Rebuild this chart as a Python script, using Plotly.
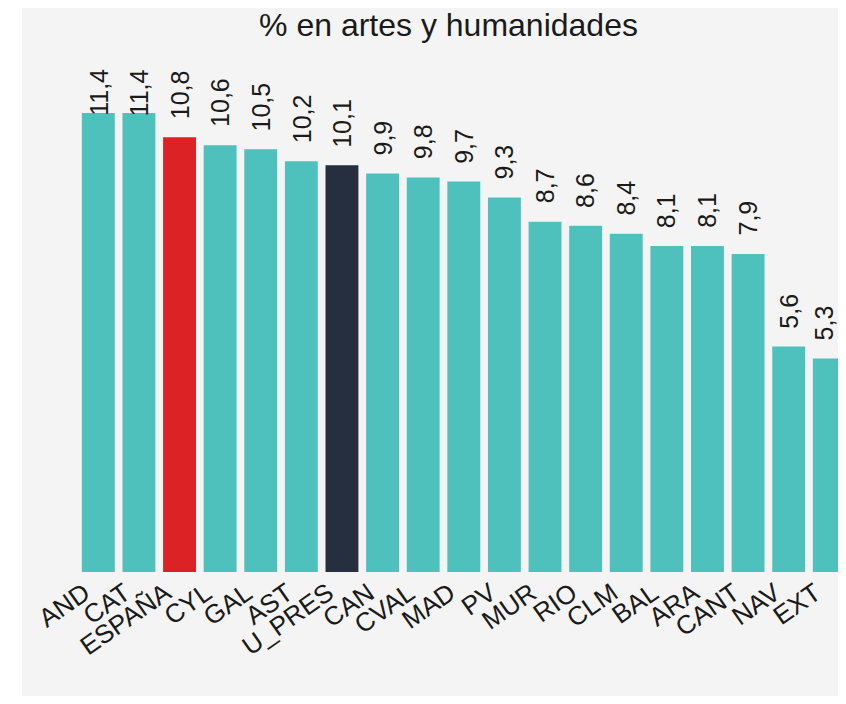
import plotly.graph_objects as go

categories = ["AND", "CAT", "ESPAÑA", "CYL", "GAL", "AST", "U_PRES", "CAN", "CVAL", "MAD",
              "PV", "MUR", "RIO", "CLM", "BAL", "ARA", "CANT", "NAV", "EXT"]
values = [11.4, 11.4, 10.8, 10.6, 10.5, 10.2, 10.1, 9.9, 9.8, 9.7,
          9.3, 8.7, 8.6, 8.4, 8.1, 8.1, 7.9, 5.6, 5.3]
labels = [f"{v:.1f}".replace(".", ",") for v in values]

TEAL = "#4ec1bd"
RED = "#dc2224"
NAVY = "#252f40"
colors = [RED if c == "ESPAÑA" else NAVY if c == "U_PRES" else TEAL for c in categories]

FONT = "Liberation Sans, Arial, sans-serif"
W, H = 838, 688
L, R, T, B = 70, 0, 59, 124
pw, ph = W - L - R, H - T - B
PX_PER_UNIT = 40.26
YMAX = ph / PX_PER_UNIT
SLOT = 40.61
LABEL_GAP = 19
LABEL_LEN = 48

fig = go.Figure(go.Bar(
    x=categories, y=values, marker_color=colors, marker_line_width=0,
    hoverinfo="x+y",
))

annotations = []
for i, (c, v, t) in enumerate(zip(categories, values, labels)):
    top_px = ph - v * PX_PER_UNIT  # distance from plot top to bar top
    xs = -5 if i == len(categories) - 1 else 0  # keep last label fully visible
    if top_px - LABEL_GAP - LABEL_LEN < 0:
        annotations.append(dict(x=c, y=YMAX, xref="x", yref="y", text=t, textangle=-90,
                                showarrow=False, yanchor="top", xanchor="center", xshift=xs,
                                font=dict(size=25, color="#1a1a1a", family=FONT)))
    else:
        annotations.append(dict(x=c, y=v, xref="x", yref="y", text=t, textangle=-90,
                                showarrow=False, yanchor="bottom", xanchor="center", xshift=xs,
                                yshift=LABEL_GAP - 3,
                                font=dict(size=25, color="#1a1a1a", family=FONT)))

fig.update_layout(
    width=W, height=H,
    margin=dict(l=L, r=R, t=T, b=B, pad=0),
    paper_bgcolor="white", plot_bgcolor="rgba(0,0,0,0)",
    font=dict(family=FONT, color="#1a1a1a"),
    title=dict(text="% en artes y humanidades", x=440.5 / W, xref="container", xanchor="center",
               y=1 - 17 / H, yref="container", yanchor="middle",
               font=dict(size=32, color="#1a1a1a")),
    bargap=0.19,
    showlegend=False,
    annotations=annotations,
    shapes=[dict(type="rect", xref="paper", yref="paper", layer="below",
                 x0=(14 - L) / pw, x1=1.05, y0=-(B + 2) / ph, y1=(ph + T + 5) / ph,
                 fillcolor="#f4f4f4", line_width=0)],
)
fig.update_xaxes(range=[-0.5, -0.5 + pw / SLOT], tickangle=-35, ticklabelshift=-14,
                 tickfont=dict(size=26, color="#1a1a1a"),
                 showgrid=False, zeroline=False, showline=False, ticks="")
fig.update_yaxes(range=[0, YMAX], visible=False, showgrid=False, zeroline=False)

fig.write_html("out.html")
